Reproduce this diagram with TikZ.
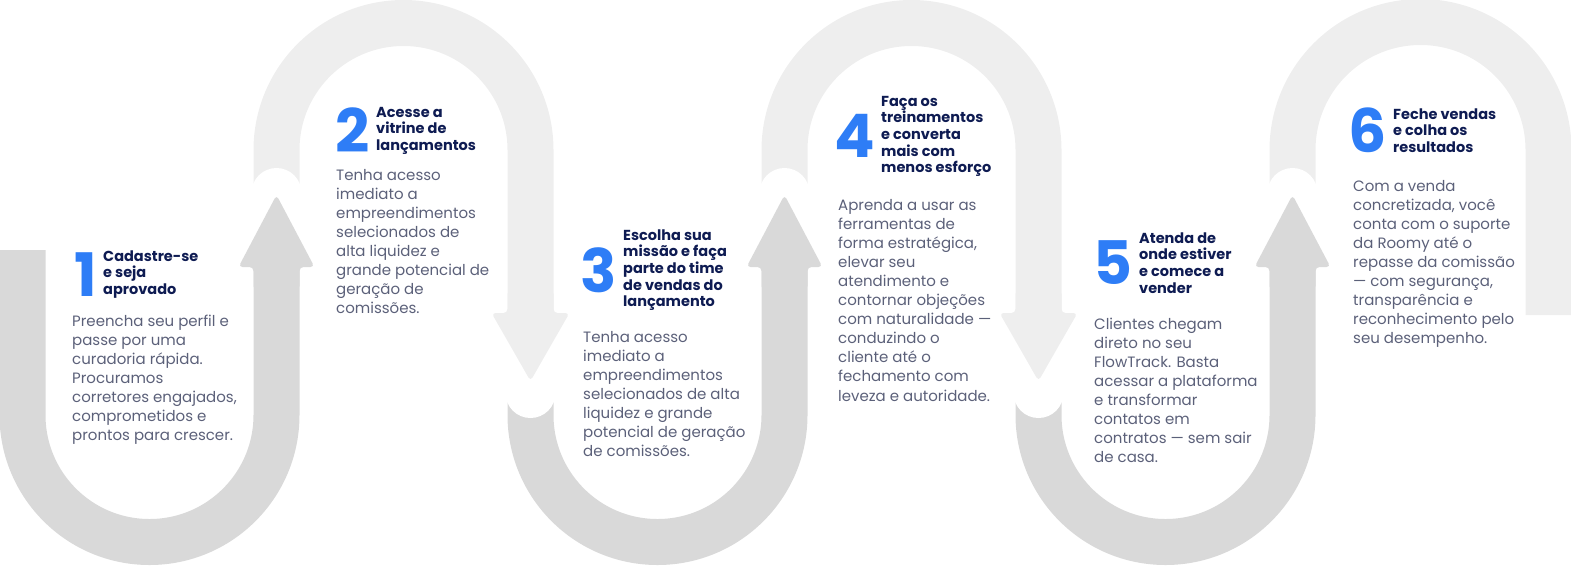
\documentclass[tikz,border=0pt]{standalone}
\usepackage{fontspec}
\setmainfont{Poppins}
\usepackage{tikz}
\usetikzlibrary{positioning}
\definecolor{bandDark}{HTML}{D9D9D9}
\definecolor{bandLight}{HTML}{EEEEEE}
\definecolor{numBlue}{HTML}{2E7DF6}
\definecolor{titleNavy}{HTML}{0E1B52}
\definecolor{bodyGrey}{HTML}{5B6079}
\newcommand{\stk}[1]{\vtop{\halign{##\hfil\cr#1\crcr}}}
\tikzset{
  darkband/.style={draw=bandDark, line width=46pt},
  lightband/.style={draw=bandLight, line width=46pt},
  uphead/.style={fill=bandDark, rounded corners=4pt},
  downhead/.style={fill=bandLight, rounded corners=4pt},
  notch/.style={fill=white},
  numlabel/.style={font=\fontsize{60pt}{60pt}\selectfont\bfseries, text=numBlue, inner sep=0pt},
  steptitle/.style={font=\fontsize{14.5pt}{16.7pt}\selectfont\bfseries, text=titleNavy, inner sep=0pt, anchor=base west},
  stepbody/.style={font=\fontsize{15pt}{19.1pt}\selectfont, text=bodyGrey, inner sep=0pt, anchor=base west}
}

\begin{document}
\begin{tikzpicture}[x=1pt,y=-1pt]
        \useasboundingbox (0,0) rectangle (1571,566);
        % lower bends
        \draw[darkband] (22.5,250) -- (22.5,415) arc[start angle=180,end angle=0,radius=127] -- (276.5,267);
        \draw[darkband] (530.5,390) -- (530.5,415) arc[start angle=180,end angle=0,radius=127] -- (784.5,267);
        \draw[darkband] (1038.5,390) -- (1038.5,415) arc[start angle=180,end angle=0,radius=127] -- (1292.5,267);
        % upper bends
        \draw[lightband] (276.5,195) -- (276.5,150) arc[start angle=180,end angle=360,radius=127] -- (530.5,313);
        \draw[lightband] (784.5,195) -- (784.5,150) arc[start angle=180,end angle=360,radius=127] -- (1038.5,313);
        \draw[lightband] (1292.5,195) -- (1292.5,150) arc[start angle=180,end angle=360,radius=128] -- (1548.5,315);
        % notches at the tails
        \foreach \x in {276.5,784.5,1292.5}
          \fill[notch] (\x,193) circle[radius=25];
        \foreach \x in {530.5,1038.5}
          \fill[notch] (\x,393) circle[radius=25];
        % heads
        \foreach \x in {276.5,784.5,1292.5}
          \fill[uphead] (\x-23,290) -- (\x-23,267) -- (\x-38,267) -- (\x,195) -- (\x+38,267) -- (\x+23,267) -- (\x+23,290) -- cycle;
        \foreach \x in {530.5,1038.5}
          \fill[downhead] (\x-23,290) -- (\x-23,313) -- (\x-39,313) -- (\x,381) -- (\x+39,313) -- (\x+23,313) -- (\x+23,290) -- cycle;
        % step 1
        \node[steptitle] (t1) at (103,261) {\stk{Cadastre-se\cr e seja\cr aprovado}};
        \node[numlabel, left=6pt of t1] (n1) {1};
        \node[stepbody] (b1) at (72,326) {\stk{Preencha seu perfil e\cr passe por uma\cr curadoria rápida.\cr Procuramos\cr corretores engajados,\cr comprometidos e\cr prontos para crescer.}};
        % step 2
        \node[steptitle] (t2) at (376,117) {\stk{Acesse a\cr vitrine de\cr lançamentos}};
        \node[numlabel, left=6pt of t2] (n2) {2};
        \node[stepbody] (b2) at (336,180) {\stk{Tenha acesso\cr imediato a\cr empreendimentos\cr selecionados de\cr alta liquidez e\cr grande potencial de\cr geração de\cr comissões.}};
        % step 3
        \node[steptitle] (t3) at (623,240) {\stk{Escolha sua\cr missão e faça\cr parte do time\cr de vendas do\cr lançamento}};
        \node[numlabel, left=6pt of t3] (n3) {3};
        \node[stepbody] (b3) at (583,342) {\stk{Tenha acesso\cr imediato a\cr empreendimentos\cr selecionados de alta\cr liquidez e grande\cr potencial de geração\cr de comissões.}};
        % step 4
        \node[steptitle] (t4) at (881,106) {\stk{Faça os\cr treinamentos\cr e converta\cr mais com\cr menos esforço}};
        \node[numlabel, left=6pt of t4] (n4) {4};
        \node[stepbody] (b4) at (838,210) {\stk{Aprenda a usar as\cr ferramentas de\cr forma estratégica,\cr elevar seu\cr atendimento e\cr contornar objeções\cr com naturalidade —\cr conduzindo o\cr cliente até o\cr fechamento com\cr leveza e autoridade.}};
        % step 5
        \node[steptitle] (t5) at (1139,243) {\stk{Atenda de\cr onde estiver\cr e comece a\cr vender}};
        \node[numlabel, left=6pt of t5] (n5) {5};
        \node[stepbody] (b5) at (1094,329) {\stk{Clientes chegam\cr direto no seu\cr FlowTrack. Basta\cr acessar a plataforma\cr e transformar\cr contatos em\cr contratos — sem sair\cr de casa.}};
        % step 6
        \node[steptitle] (t6) at (1393,119) {\stk{Feche vendas\cr e colha os\cr resultados}};
        \node[numlabel, left=6pt of t6] (n6) {6};
        \node[stepbody] (b6) at (1353,191) {\stk{Com a venda\cr concretizada, você\cr conta com o suporte\cr da Roomy até o\cr repasse da comissão\cr — com segurança,\cr transparência e\cr reconhecimento pelo\cr seu desempenho.}};
      \end{tikzpicture}
\end{document}
